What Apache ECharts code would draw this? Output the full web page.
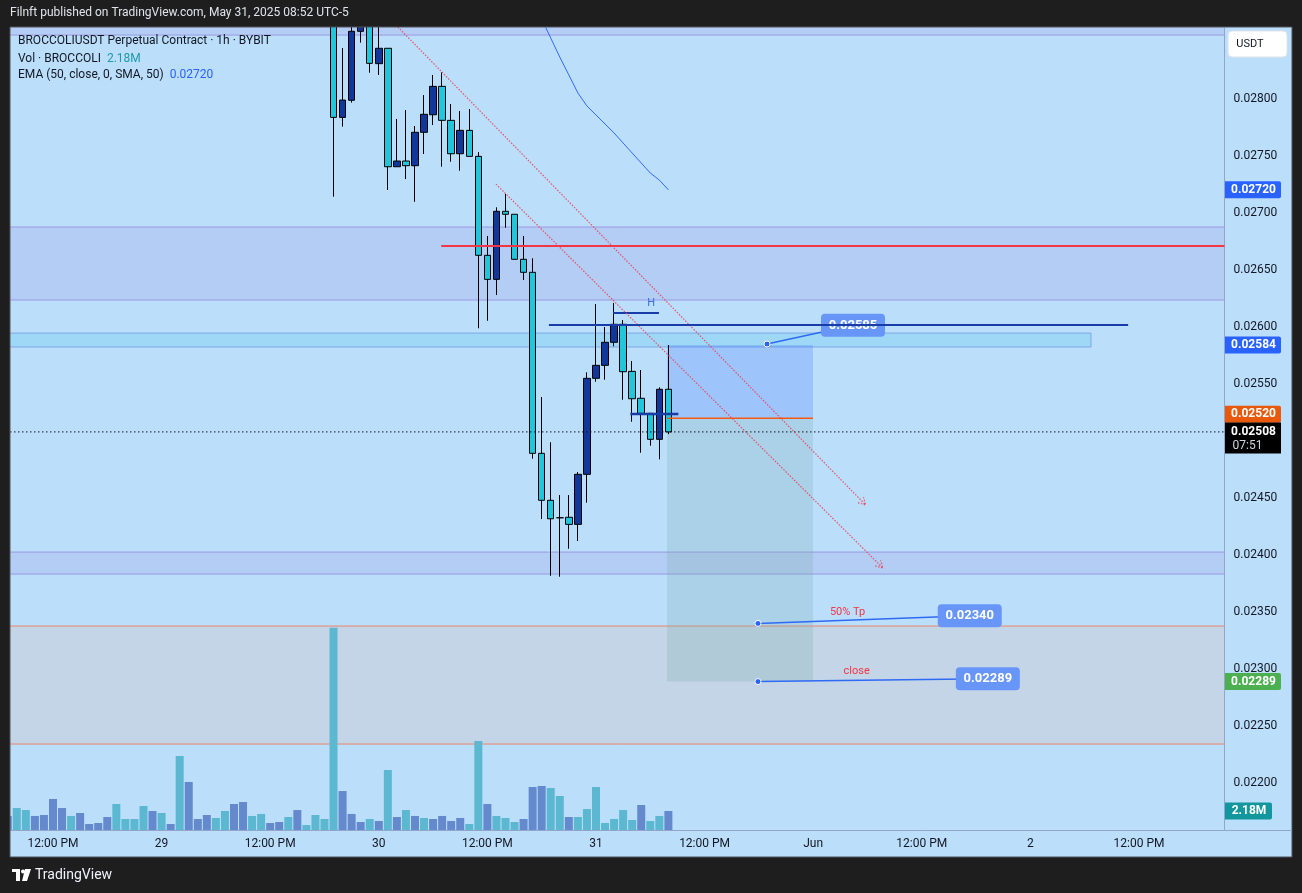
<!DOCTYPE html>
<html>
<head>
<meta charset="utf-8">
<title>BROCCOLIUSDT Perpetual Contract · 1h · BYBIT</title>
<script src="https://cdn.jsdelivr.net/npm/echarts@6/dist/echarts.min.js"></script>
<style>
    html, body { margin: 0; padding: 0; background: #1e1e1e; }
    #chart { width: 1302px; height: 893px; }
</style>
</head>
<body>
<div id="chart"></div>
<script>
// hourly bars, index 0 = May 28 07:00 (UTC-5), index 65 = May 31 00:00
const candleIdx = [36, 37, 38, 39, 40, 41, 42, 43, 44, 45, 46, 47, 48, 49, 50, 51, 52, 53, 54,
    55, 56, 57, 58, 59, 60, 61, 62, 63, 64, 65, 66, 67, 68, 69, 70, 71, 72, 73]
const opens = [0.028781, 0.027839, 0.027989, 0.028594, 0.028711, 0.028310, 0.028445, 0.027406,
    0.027456, 0.027415, 0.027708, 0.027862, 0.028111, 0.027813, 0.027520, 0.027725, 0.027497,
    0.026629, 0.026418, 0.027015, 0.026989, 0.026594, 0.026480, 0.024892, 0.024480, 0.024327,
    0.024331, 0.024269, 0.024708, 0.025550, 0.025664, 0.025866, 0.026024, 0.025611, 0.025375,
    0.025243, 0.025015, 0.025454]
const closes = [0.027839, 0.027991, 0.028594, 0.028737, 0.028313, 0.028445, 0.027406, 0.027456,
    0.027415, 0.027708, 0.027866, 0.028111, 0.027813, 0.027520, 0.027725, 0.027497, 0.026629,
    0.026418, 0.027015, 0.026989, 0.026594, 0.026480, 0.024892, 0.024480, 0.024318, 0.024327,
    0.024269, 0.024708, 0.025550, 0.025664, 0.025866, 0.026024, 0.025608, 0.025371, 0.025243,
    0.025015, 0.025454, 0.02508]
const lows = [0.027143, 0.027757, 0.027968, 0.028494, 0.028231, 0.028211, 0.027202, 0.027406,
    0.027298, 0.027099, 0.027518, 0.027772, 0.027406, 0.027450, 0.027371, 0.027497, 0.025989,
    0.026055, 0.026281, 0.026871, 0.026594, 0.026412, 0.024845, 0.024316, 0.023818, 0.023810,
    0.024055, 0.024123, 0.024459, 0.025520, 0.025538, 0.025831, 0.025362, 0.025169, 0.024897,
    0.024959, 0.024839, 0.02506]
const highs = [0.028825, 0.028447, 0.028640, 0.028825, 0.028763, 0.028693, 0.028447, 0.027825,
    0.027904, 0.027763, 0.028035, 0.028211, 0.028234, 0.027956, 0.027895, 0.027912, 0.027535,
    0.026798, 0.027050, 0.027167, 0.026989, 0.026798, 0.026603, 0.025386, 0.024989, 0.024526,
    0.024526, 0.024728, 0.025603, 0.026202, 0.026000, 0.026211, 0.026061, 0.025702, 0.025623,
    0.025243, 0.025471, 0.025842]

// volume in millions, index 0..73; u = up bar, d = down bar
const volumes = [1.61, 2.52, 2.29, 1.61, 1.72, 3.56, 2.52, 1.61, 1.95, 0.69,
    0.80, 1.49, 2.98, 1.26, 1.26, 2.75, 2.18, 1.95, 0.69, 8.49,
    5.51, 1.26, 1.72, 1.38, 2.18, 2.98, 3.21, 1.61, 1.84, 0.80,
    0.92, 1.49, 2.29, 0.57, 1.72, 1.26, 23.2, 4.47, 1.84, 0.92,
    1.26, 1.03, 6.88, 1.49, 2.29, 1.61, 1.38, 1.26, 1.61, 1.03,
    1.38, 0.69, 10.2, 2.98, 1.61, 1.38, 0.92, 1.26, 4.93, 5.05,
    4.82, 3.90, 1.49, 1.49, 2.41, 4.93, 0.80, 1.26, 2.29, 1.15,
    2.87, 1.03, 1.61, 2.18]
const volDir = 'uddu uuud uuuu dddd udud uuud duud duud uddd duuu dudu dudu uuud dudd duuu ddud dddd ddud duuu uudd ddud'.replace(/ /g, '').split('')

const emaIdx = [58, 59, 60, 61, 62, 63, 64, 65, 66, 67, 68, 69, 70, 71, 72, 73]
const emaValues = [0.028868, 0.028702, 0.028535, 0.028368, 0.028211, 0.028053, 0.027939, 0.027860,
    0.027781, 0.027702, 0.027614, 0.027526, 0.027439, 0.027351, 0.027289, 0.027204]

const timeTicks = [5, 17, 29, 41, 53, 65, 77, 89, 101, 113, 125]
const timeLabels = ['12:00 PM', '29', '12:00 PM', '30', '12:00 PM', '31', '12:00 PM', 'Jun', '12:00 PM', '2', '12:00 PM']
const priceTicks = [0.022, 0.0225, 0.023, 0.0235, 0.024, 0.0245, 0.025, 0.0255, 0.026, 0.0265, 0.027, 0.0275, 0.028]

// drawings (price levels, bar indexes)
const zoneTop = [0.028561, 0.0295]
const zoneUpper = [0.026237, 0.026877]
const bandCyan = [0.025825, 0.025947]
const bandCyanEnd = 119.7
const zoneLower = [0.023833, 0.024026]
const zoneGray = [0.022342, 0.023377]
const redLevel = 0.026711
const redStart = 47.9
const navyLevel = 0.026018
const navyRange = [59.8, 123.8]
const highLevel = 0.026123
const highRange = [66.9, 71.96]
const shortLevel = 0.025237
const shortRange = [68.8, 74.1]
const lastPrice = 0.02508
const entryPrice = 0.0252
const stopPrice = 0.025842
const targetPrice = 0.02289
const posRange = [72.85, 88.98]
const trendLines = [
    [[43.1, 0.028632], [94.8, 0.024439]],
    [[53.95, 0.027254], [96.7, 0.023886]]
]
const callouts = [
    { anchor: [83.9, 0.025851], box: [93.4, 0.026015], note: '', noteAt: null },
    { anchor: [82.9, 0.0234], box: [106.3, 0.023468], note: '50% Tp', noteAt: [92.8, 0.023494] },
    { anchor: [82.9, 0.02289], box: [108.3, 0.022914], note: 'close', noteAt: [93.8, 0.022982] }
]

const xMin = 0.25
const xMax = 134.45
const yMin = 0.021588
const yMax = 0.028623
const volMax = 92

const FONT = 'Roboto, "Liberation Sans", Arial, sans-serif'
const chart = echarts.init(document.getElementById('chart'))

const candleData = candleIdx.map((j, k) => [j, opens[k], closes[k], lows[k], highs[k]])

chart.setOption({
    backgroundColor: '#bbdefb',
    animation: false,
    grid: { left: 10, right: 77.5, top: 28, bottom: 63 },
    xAxis: {
        type: 'value',
        min: xMin,
        max: xMax,
        axisLine: { show: true, onZero: false, lineStyle: { color: '#93a6c9' } },
        axisTick: { show: false },
        splitLine: { show: false },
        axisLabel: {
            customValues: timeTicks,
            formatter: v => timeLabels[timeTicks.indexOf(v)],
            color: '#131722',
            fontSize: 12,
            fontFamily: FONT,
            margin: 8
        }
    },
    yAxis: [
        {
            type: 'value',
            position: 'right',
            min: yMin,
            max: yMax,
            axisLine: { show: true, lineStyle: { color: '#93a6c9' } },
            axisTick: { show: false },
            splitLine: { show: false },
            axisLabel: {
                customValues: priceTicks,
                formatter: v => v.toFixed(5),
                color: '#131722',
                fontSize: 12,
                fontFamily: FONT,
                margin: 9
            }
        },
        { type: 'value', min: 0, max: volMax, show: false }
    ],
    series: [
        {
            name: 'Vol',
            type: 'bar',
            yAxisIndex: 1,
            barWidth: 8,
            z: 2,
            data: volumes.map((v, j) => [j, v]),
            itemStyle: {
                color: p => volDir[p.dataIndex] === 'u' ? '#6589cd' : '#5cb8d1'
            }
        },
        {
            name: 'BROCCOLIUSDT',
            type: 'candlestick',
            barWidth: 7,
            z: 3,
            encode: { x: 0, y: [1, 2, 3, 4] },
            data: candleData,
            itemStyle: {
                color: '#12379a',
                color0: '#22c5da',
                borderColor: '#000000',
                borderColor0: '#000000',
                borderWidth: 1
            }
        },
        {
            name: 'EMA',
            type: 'line',
            z: 4,
            showSymbol: false,
            data: emaIdx.map((j, k) => [j, emaValues[k]]),
            lineStyle: { color: '#2f6af5', width: 1 }
        }
    ]
})

function buildGraphics() {
    const pt = (j, p) => chart.convertToPixel({ xAxisIndex: 0, yAxisIndex: 0 }, [j, p])
    const py = p => pt(xMin, p)[1]
    const px = j => pt(j, yMin)[0]
    const left = px(xMin)
    const right = px(xMax)
    const els = []

    const rect = (x0, y0, x1, y1, style, z) => ({
        type: 'rect', silent: true, z,
        shape: { x: Math.min(x0, x1), y: Math.min(y0, y1), width: Math.abs(x1 - x0), height: Math.abs(y1 - y0) },
        style
    })
    const line = (x1, y1, x2, y2, style, z) => ({
        type: 'line', silent: true, z, shape: { x1, y1, x2, y2 }, style
    })
    const text = (x, y, str, style, z) => ({
        type: 'text', silent: true, z, x, y,
        style: Object.assign({ text: str, font: '12px ' + FONT, fill: '#131722', align: 'left', verticalAlign: 'middle' }, style)
    })

    // zones
    const purpleFill = 'rgba(120, 80, 200, 0.12)'
    const purpleLine = '#9a98e2'
    els.push(rect(left, py(zoneTop[1]), right, py(zoneTop[0]), { fill: purpleFill }, 0))
    els.push(line(left, py(zoneTop[0]), right, py(zoneTop[0]), { stroke: purpleLine, lineWidth: 1 }, 0))

    els.push(rect(left, py(zoneUpper[1]), right, py(zoneUpper[0]), { fill: purpleFill }, 0))
    els.push(line(left, py(zoneUpper[1]), right, py(zoneUpper[1]), { stroke: purpleLine, lineWidth: 1 }, 0))
    els.push(line(left, py(zoneUpper[0]), right, py(zoneUpper[0]), { stroke: purpleLine, lineWidth: 1 }, 0))

    els.push(rect(left - 3, py(bandCyan[1]), px(bandCyanEnd), py(bandCyan[0]),
        { fill: 'rgba(100, 205, 240, 0.32)', stroke: '#7ea7e3', lineWidth: 1 }, 0))

    els.push(rect(left, py(zoneLower[1]), right, py(zoneLower[0]), { fill: purpleFill }, 0))
    els.push(line(left, py(zoneLower[1]), right, py(zoneLower[1]), { stroke: purpleLine, lineWidth: 1 }, 0))
    els.push(line(left, py(zoneLower[0]), right, py(zoneLower[0]), { stroke: purpleLine, lineWidth: 1 }, 0))

    els.push(rect(left, py(zoneGray[1]), right, py(zoneGray[0]), { fill: 'rgba(210, 200, 200, 0.38)' }, 0))
    els.push(line(left, py(zoneGray[1]), right, py(zoneGray[1]), { stroke: '#e98868', lineWidth: 1 }, 0))
    els.push(line(left, py(zoneGray[0]), right, py(zoneGray[0]), { stroke: '#e98868', lineWidth: 1 }, 0))

    // short position tool
    els.push(rect(px(posRange[0]), py(stopPrice), px(posRange[1]), py(entryPrice), { fill: 'rgba(41, 98, 255, 0.2)' }, 1))
    els.push(rect(px(posRange[0]), py(entryPrice), px(posRange[1]), py(targetPrice), { fill: 'rgba(120, 170, 170, 0.25)' }, 1))
    els.push(line(px(posRange[0]), py(entryPrice), px(posRange[1]), py(entryPrice), { stroke: '#f45a14', lineWidth: 1.5 }, 5))

    // horizontal levels
    els.push(line(px(redStart), py(redLevel), right, py(redLevel), { stroke: '#f23645', lineWidth: 2 }, 5))
    els.push(line(px(navyRange[0]), py(navyLevel), px(navyRange[1]), py(navyLevel), { stroke: '#1a3ca6', lineWidth: 2 }, 8))
    els.push(line(px(highRange[0]), py(highLevel), px(highRange[1]), py(highLevel), { stroke: '#1a3ca6', lineWidth: 2 }, 5))
    els.push(text(px(71.1), py(0.026211), 'H', { fill: '#3d6fd8', font: '11px ' + FONT, align: 'center' }, 5))
    els.push(line(px(shortRange[0]), py(shortLevel), px(shortRange[1]), py(shortLevel), { stroke: '#1a3ca6', lineWidth: 2.5 }, 5))

    // last price
    els.push(line(left, py(lastPrice), right, py(lastPrice), { stroke: '#131722', lineWidth: 1, lineDash: [1.5, 2.5] }, 5))

    // dotted trend arrows
    trendLines.forEach(([a, b]) => {
        const p1 = pt(a[0], a[1])
        const p2 = pt(b[0], b[1])
        const ang = Math.atan2(p2[1] - p1[1], p2[0] - p1[0])
        const st = { stroke: 'rgba(240, 60, 80, 0.85)', lineWidth: 1.2, lineDash: [1.5, 1.5], fill: null }
        els.push({ type: 'polyline', silent: true, z: 5, shape: { points: [p1, p2] }, style: st })
        const h = 8
        els.push({
            type: 'polyline', silent: true, z: 5,
            shape: {
                points: [
                    [p2[0] - h * Math.cos(ang - 0.5), p2[1] - h * Math.sin(ang - 0.5)],
                    p2,
                    [p2[0] - h * Math.cos(ang + 0.5), p2[1] - h * Math.sin(ang + 0.5)]
                ]
            },
            style: st
        })
    })

    // price callouts
    callouts.forEach(c => {
        const a = pt(c.anchor[0], c.anchor[1])
        const b = pt(c.box[0], c.box[1])
        els.push(line(a[0], a[1], b[0], b[1], { stroke: '#2f6af5', lineWidth: 1.5 }, 6))
        els.push({ type: 'circle', silent: true, z: 7, shape: { cx: a[0], cy: a[1], r: 3 }, style: { fill: '#2962ff', stroke: '#ffffff', lineWidth: 1 } })
        els.push({ type: 'rect', silent: true, z: 7, shape: { x: b[0] - 32, y: b[1] - 11.5, width: 64, height: 23, r: 4 }, style: { fill: '#6796f8' } })
        els.push(text(b[0], b[1], c.anchor[1].toFixed(5), { fill: '#ffffff', font: 'bold 13px ' + FONT, align: 'center' }, 7))
        if (c.note) {
            const n = pt(c.noteAt[0], c.noteAt[1])
            els.push(text(n[0], n[1], c.note, { fill: '#f23645', font: '11px ' + FONT, align: 'center' }, 7))
        }
    })

    // frame
    const frame = '#1e1e1e'
    els.push(rect(0, 0, 1302, 27, { fill: frame }, 100))
    els.push(rect(0, 857, 1302, 893, { fill: frame }, 100))
    els.push(rect(0, 0, 10, 893, { fill: frame }, 100))
    els.push(rect(1292, 0, 1302, 893, { fill: frame }, 100))
    els.push(rect(10, 27, 1292, 857, { fill: null, stroke: '#4f525b', lineWidth: 1 }, 101))
    els.push(line(right, 830.5, 1292, 830.5, { stroke: '#93a6c9', lineWidth: 1 }, 101))
    els.push(text(10, 13, 'Filnft published on TradingView.com, May 31, 2025 08:52 UTC-5', { fill: '#e0e3eb', font: '12px ' + FONT }, 102))
    els.push(rect(12, 869, 20, 872, { fill: '#ffffff' }, 102))
    els.push(rect(16, 869, 20, 881, { fill: '#ffffff' }, 102))
    els.push({ type: 'circle', silent: true, z: 102, shape: { cx: 23, cy: 871.5, r: 2 }, style: { fill: '#ffffff' } })
    els.push({ type: 'polygon', silent: true, z: 102, shape: { points: [[25, 869], [31, 869], [27, 881], [22, 881]] }, style: { fill: '#ffffff' } })
    els.push(text(35, 875, 'TradingView', { fill: '#f0f3fa', font: '14px ' + FONT }, 102))

    // legend
    els.push(text(18, 41, 'BROCCOLIUSDT Perpetual Contract · 1h · BYBIT', {}, 20))
    els.push(text(18, 59, '{a|Vol · BROCCOLI}  {b|' + volumes[volumes.length - 1].toFixed(2) + 'M}', {
        rich: { a: { fill: '#131722', font: '12px ' + FONT }, b: { fill: '#1e9ba8', font: '12px ' + FONT } }
    }, 20))
    els.push(text(18, 75, '{a|EMA (50, close, 0, SMA, 50)}  {b|' + emaValues[emaValues.length - 1].toFixed(5) + '}', {
        rich: { a: { fill: '#131722', font: '12px ' + FONT }, b: { fill: '#2962ff', font: '12px ' + FONT } }
    }, 20))

    // price scale tags
    const tag = (y, str, fill, w) => {
        els.push({ type: 'rect', silent: true, z: 30, shape: { x: right + 0.5, y: y - 8.5, width: w || 56, height: 17, r: [0, 2, 2, 0] }, style: { fill } })
        els.push(text(right + 3 + (w || 56) / 2 - 2, y, str, { fill: '#ffffff', font: 'bold 12px ' + FONT, align: 'center' }, 31))
    }
    tag(py(emaValues[emaValues.length - 1]), emaValues[emaValues.length - 1].toFixed(5), '#2962ff')
    tag(py(stopPrice), stopPrice.toFixed(5), '#2962ff')
    tag(py(entryPrice) - 4, entryPrice.toFixed(5), '#e8590c')
    tag(py(targetPrice), targetPrice.toFixed(5), '#4caf50')
    const vy = chart.convertToPixel({ xAxisIndex: 0, yAxisIndex: 1 }, [xMin, volumes[volumes.length - 1]])[1]
    tag(vy, volumes[volumes.length - 1].toFixed(2) + 'M', '#13979e', 47)
    const ly = py(lastPrice)
    els.push({ type: 'rect', silent: true, z: 32, shape: { x: right + 0.5, y: ly - 9.5, width: 56, height: 31 }, style: { fill: '#000000' } })
    els.push(text(right + 29, ly, lastPrice.toFixed(5), { fill: '#ffffff', font: 'bold 12px ' + FONT, align: 'center' }, 33))
    els.push(text(right + 8, ly + 14, '07:51', { fill: '#d1d4dc', font: '12px ' + FONT }, 33))

    // currency box
    els.push({ type: 'rect', silent: true, z: 30, shape: { x: 1228, y: 31, width: 59, height: 26, r: 4 }, style: { fill: '#ffffff', stroke: '#dfe3ea' } })
    els.push(text(1250, 44, 'USDT', { font: '11px ' + FONT, align: 'center' }, 31))

    chart.setOption({ graphic: { elements: els } })
}

buildGraphics()
</script>
</body>
</html>
